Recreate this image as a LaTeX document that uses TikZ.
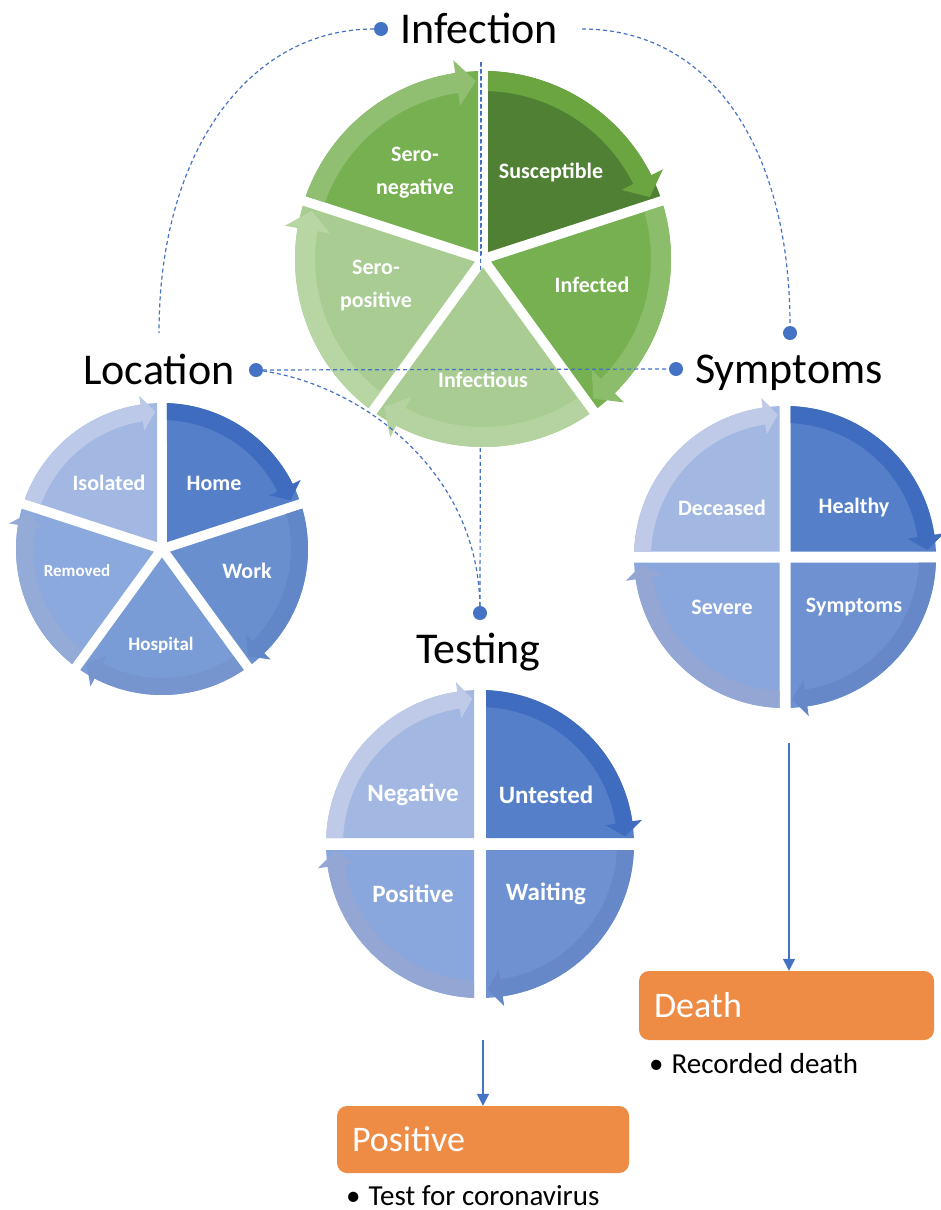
\documentclass[tikz,border=0pt]{standalone}
\usepackage{fontspec}
\setmainfont{Carlito}
\usetikzlibrary{arrows.meta,calc}
\definecolor{lnblue}{RGB}{68,114,196}
\definecolor{orng}{RGB}{238,140,70}
% green
\definecolor{gSusI}{RGB}{80,128,52}\definecolor{gSusB}{RGB}{106,165,64}
\definecolor{gInfI}{RGB}{118,176,80}\definecolor{gInfB}{RGB}{139,189,107}
\definecolor{gIfsI}{RGB}{168,204,146}\definecolor{gIfsB}{RGB}{180,211,160}
\definecolor{gSpI}{RGB}{168,204,146}\definecolor{gSpB}{RGB}{183,214,164}
\definecolor{gSnI}{RGB}{118,176,80}\definecolor{gSnB}{RGB}{145,191,114}
% blue 5
\definecolor{bHoI}{RGB}{85,127,201}\definecolor{bHoB}{RGB}{63,108,190}
\definecolor{bWoI}{RGB}{105,143,207}\definecolor{bWoB}{RGB}{98,135,200}
\definecolor{bHsI}{RGB}{122,156,214}\definecolor{bHsB}{RGB}{118,148,205}
\definecolor{bReI}{RGB}{140,169,222}\definecolor{bReB}{RGB}{148,170,215}
\definecolor{bIsI}{RGB}{162,184,226}\definecolor{bIsB}{RGB}{188,201,232}
% blue 4
\definecolor{qAI}{RGB}{85,127,201}\definecolor{qAB}{RGB}{63,108,190}
\definecolor{qBI}{RGB}{110,146,209}\definecolor{qBB}{RGB}{103,136,200}
\definecolor{qCI}{RGB}{137,166,221}\definecolor{qCB}{RGB}{147,166,212}
\definecolor{qDI}{RGB}{162,184,226}\definecolor{qDB}{RGB}{190,202,232}

% #1 centre, #2 R, #3 band width, #4 gap half width, #5 head overhang,
% #6 start angle, #7 end angle (clockwise on screen), #8 fill, #9 band
\newcommand{\cycSeg}[9]{%
 \begin{scope}[shift={(#1)}]
 \pgfmathsetmacro{\pA}{asin(#4/#2)}
 \pgfmathsetmacro{\pB}{asin(#4/(#2-#3))}
 \pgfmathsetmacro{\cR}{#4/sin((#7-#6)/2)}
 \pgfmathsetmacro{\mA}{(#6+#7)/2}
 \pgfmathsetmacro{\aS}{#6+\pA}
 \pgfmathsetmacro{\aE}{#7-\pA}
 \pgfmathsetmacro{\bS}{#6+\pB}
 \pgfmathsetmacro{\hB}{#7-8.5}
 \pgfmathsetmacro{\hT}{#7-\pA-0.8}
 \pgfmathsetmacro{\rI}{#2-#3}
 \pgfmathsetmacro{\rM}{#2-#3/2}
 \pgfmathsetmacro{\rHo}{#2+#5}
 \pgfmathsetmacro{\rHi}{#2-#3-#5}
 \fill[#8] (\mA:\cR) -- (\aS:#2) arc[start angle=\aS, end angle=\aE, radius=#2] -- cycle;
 \fill[#9] (\aS:#2) arc[start angle=\aS, end angle=\hB, radius=#2] -- (\hB:\rHo) -- (\hT:\rM) -- (\hB:\rHi) -- (\hB:\rI) arc[start angle=\hB, end angle=\bS, radius=\rI] -- cycle;
 \end{scope}}

\tikzset{
 dashconn/.style={draw=lnblue, line width=1.2pt, dash pattern=on 4pt off 3pt},
 dotn/.style={circle, fill=lnblue, inner sep=0pt, minimum size=14pt},
 title/.style={anchor=base west, inner sep=0pt, font=\fontsize{44}{50}\selectfont},
 seglab/.style={text=white, font=\bfseries\fontsize{22}{33}\selectfont, align=center, inner sep=0pt},
 testlab/.style={seglab, font=\bfseries\fontsize{25}{28}\selectfont},
 arr/.style={draw=lnblue, line width=1.3pt, -{Triangle[width=12pt,length=12pt]}},
 obox/.style={fill=orng, rounded corners=10pt, text=white, font=\fontsize{36}{40}\selectfont, align=left, inner xsep=15pt, inner ysep=0pt},
 bul/.style={anchor=base west, inner sep=0pt, font=\fontsize{29}{34}\selectfont},
}

\begin{document}
\begin{tikzpicture}[x=1pt,y=-1pt]
\useasboundingbox (0,0) rectangle (940,1210);

% titles and dots
\node[title] (tInf) at (400,43) {Infection};
\node[title] (tLoc) at (83,384) {Location};
\node[title] (tSym) at (695,383) {Symptoms};
\node[title] (tTest) at (416,663) {Testing};
\node[dotn] (dInf) at (381,29) {};
\node[dotn] (dLoc) at (256,370) {};
\node[dotn] (dSym) at (676,369) {};
\node[dotn] (dSymTop) at (790,333) {};
\node[dotn] (dTest) at (480,613) {};
\coordinate (infR) at (582,29);
\coordinate (locTop) at (159,333);
\coordinate (infTop) at (481,62);

% connector behind the infection cycle
\draw[dashconn] (dTest) -- (infTop);

% Infection cycle
\cycSeg{483,259}{188}{20}{5}{13}{-90}{-18}{gSusI}{gSusB}
\cycSeg{483,259}{188}{20}{5}{13}{-18}{54}{gInfI}{gInfB}
\cycSeg{483,259}{188}{20}{5}{13}{54}{126}{gIfsI}{gIfsB}
\cycSeg{483,259}{188}{20}{5}{13}{126}{198}{gSpI}{gSpB}
\cycSeg{483,259}{188}{20}{5}{13}{198}{270}{gSnI}{gSnB}
\draw[dashconn] (481,62) -- (481,257);

% Location cycle
\cycSeg{162,549}{146}{17}{5}{9}{-90}{-18}{bHoI}{bHoB}
\cycSeg{162,549}{146}{17}{5}{9}{-18}{54}{bWoI}{bWoB}
\cycSeg{162,549}{146}{17}{5}{9}{54}{126}{bHsI}{bHsB}
\cycSeg{162,549}{146}{17}{5}{9}{126}{198}{bReI}{bReB}
\cycSeg{162,549}{146}{17}{5}{9}{198}{270}{bIsI}{bIsB}

% Symptoms cycle
\cycSeg{785,557}{151}{17}{5.5}{10}{-90}{0}{qAI}{qAB}
\cycSeg{785,557}{151}{17}{5.5}{10}{0}{90}{qBI}{qBB}
\cycSeg{785,557}{151}{17}{5.5}{10}{90}{180}{qCI}{qCB}
\cycSeg{785,557}{151}{17}{5.5}{10}{180}{270}{qDI}{qDB}

% Testing cycle
\cycSeg{480,844}{154}{17}{6}{10}{-90}{0}{qAI}{qAB}
\cycSeg{480,844}{154}{17}{6}{10}{0}{90}{qBI}{qBB}
\cycSeg{480,844}{154}{17}{6}{10}{90}{180}{qCI}{qCB}
\cycSeg{480,844}{154}{17}{6}{10}{180}{270}{qDI}{qDB}

% segment labels
\node[seglab] (lSus) at (551,172) {Susceptible};
\node[seglab] (lInf) at (592,285) {Infected};
\node[seglab] (lIfs) at (483,380) {Infectious};
\node[seglab] (lSp) at (376,286) {Sero-\\positive};
\node[seglab] (lSn) at (415,173) {Sero-\\negative};

\node[seglab] (lHome) at (214,483) {Home};
\node[seglab] (lWork) at (247,571) {Work};
\node[seglab,font=\bfseries\fontsize{19}{22}\selectfont] (lHosp) at (161,645) {Hospital};
\node[seglab,font=\bfseries\fontsize{17}{20}\selectfont] (lRem) at (77,571) {Removed};
\node[seglab] (lIso) at (109,483) {Isolated};

\node[seglab] (lHeal) at (854,508) {Healthy};
\node[seglab] (lSymp) at (854,607) {Symptoms};
\node[seglab] (lSev) at (722,607) {Severe};
\node[seglab] (lDec) at (722,508) {Deceased};

\node[testlab] (lUnt) at (546,795) {Untested};
\node[testlab] (lWait) at (546,894) {Waiting};
\node[testlab] (lPos) at (413,894) {Positive};
\node[testlab] (lNeg) at (413,795) {Negative};

% dashed connectors
\draw[dashconn] (dInf) .. controls (250,29) and (159,150) .. (locTop);
\draw[dashconn] (infR) .. controls (712,29) and (790,150) .. (dSymTop);
\draw[dashconn] (dLoc) -- (dSym);
\draw[dashconn] (dLoc) .. controls (360,385) and (478,470) .. (dTest);

% outcome boxes
\node[obox, minimum width=295pt, text width=265pt, minimum height=69pt] (death) at (786.5,1005.5) {Death};
\node[obox, minimum width=292pt, text width=262pt, minimum height=67pt] (posbox) at (483,1139.5) {Positive};
\node[bul] (bDeath) at (649,1073) {\textbullet\hspace{8pt}Recorded death};
\node[bul] (bPos) at (346,1205) {\textbullet\hspace{8pt}Test for coronavirus};

\coordinate (symOut) at (789,743);
\coordinate (testOut) at (483,1040);
\draw[arr] (symOut) -- (symOut |- death.north);
\draw[arr] (testOut) -- (testOut |- posbox.north);
\end{tikzpicture}
\end{document}
